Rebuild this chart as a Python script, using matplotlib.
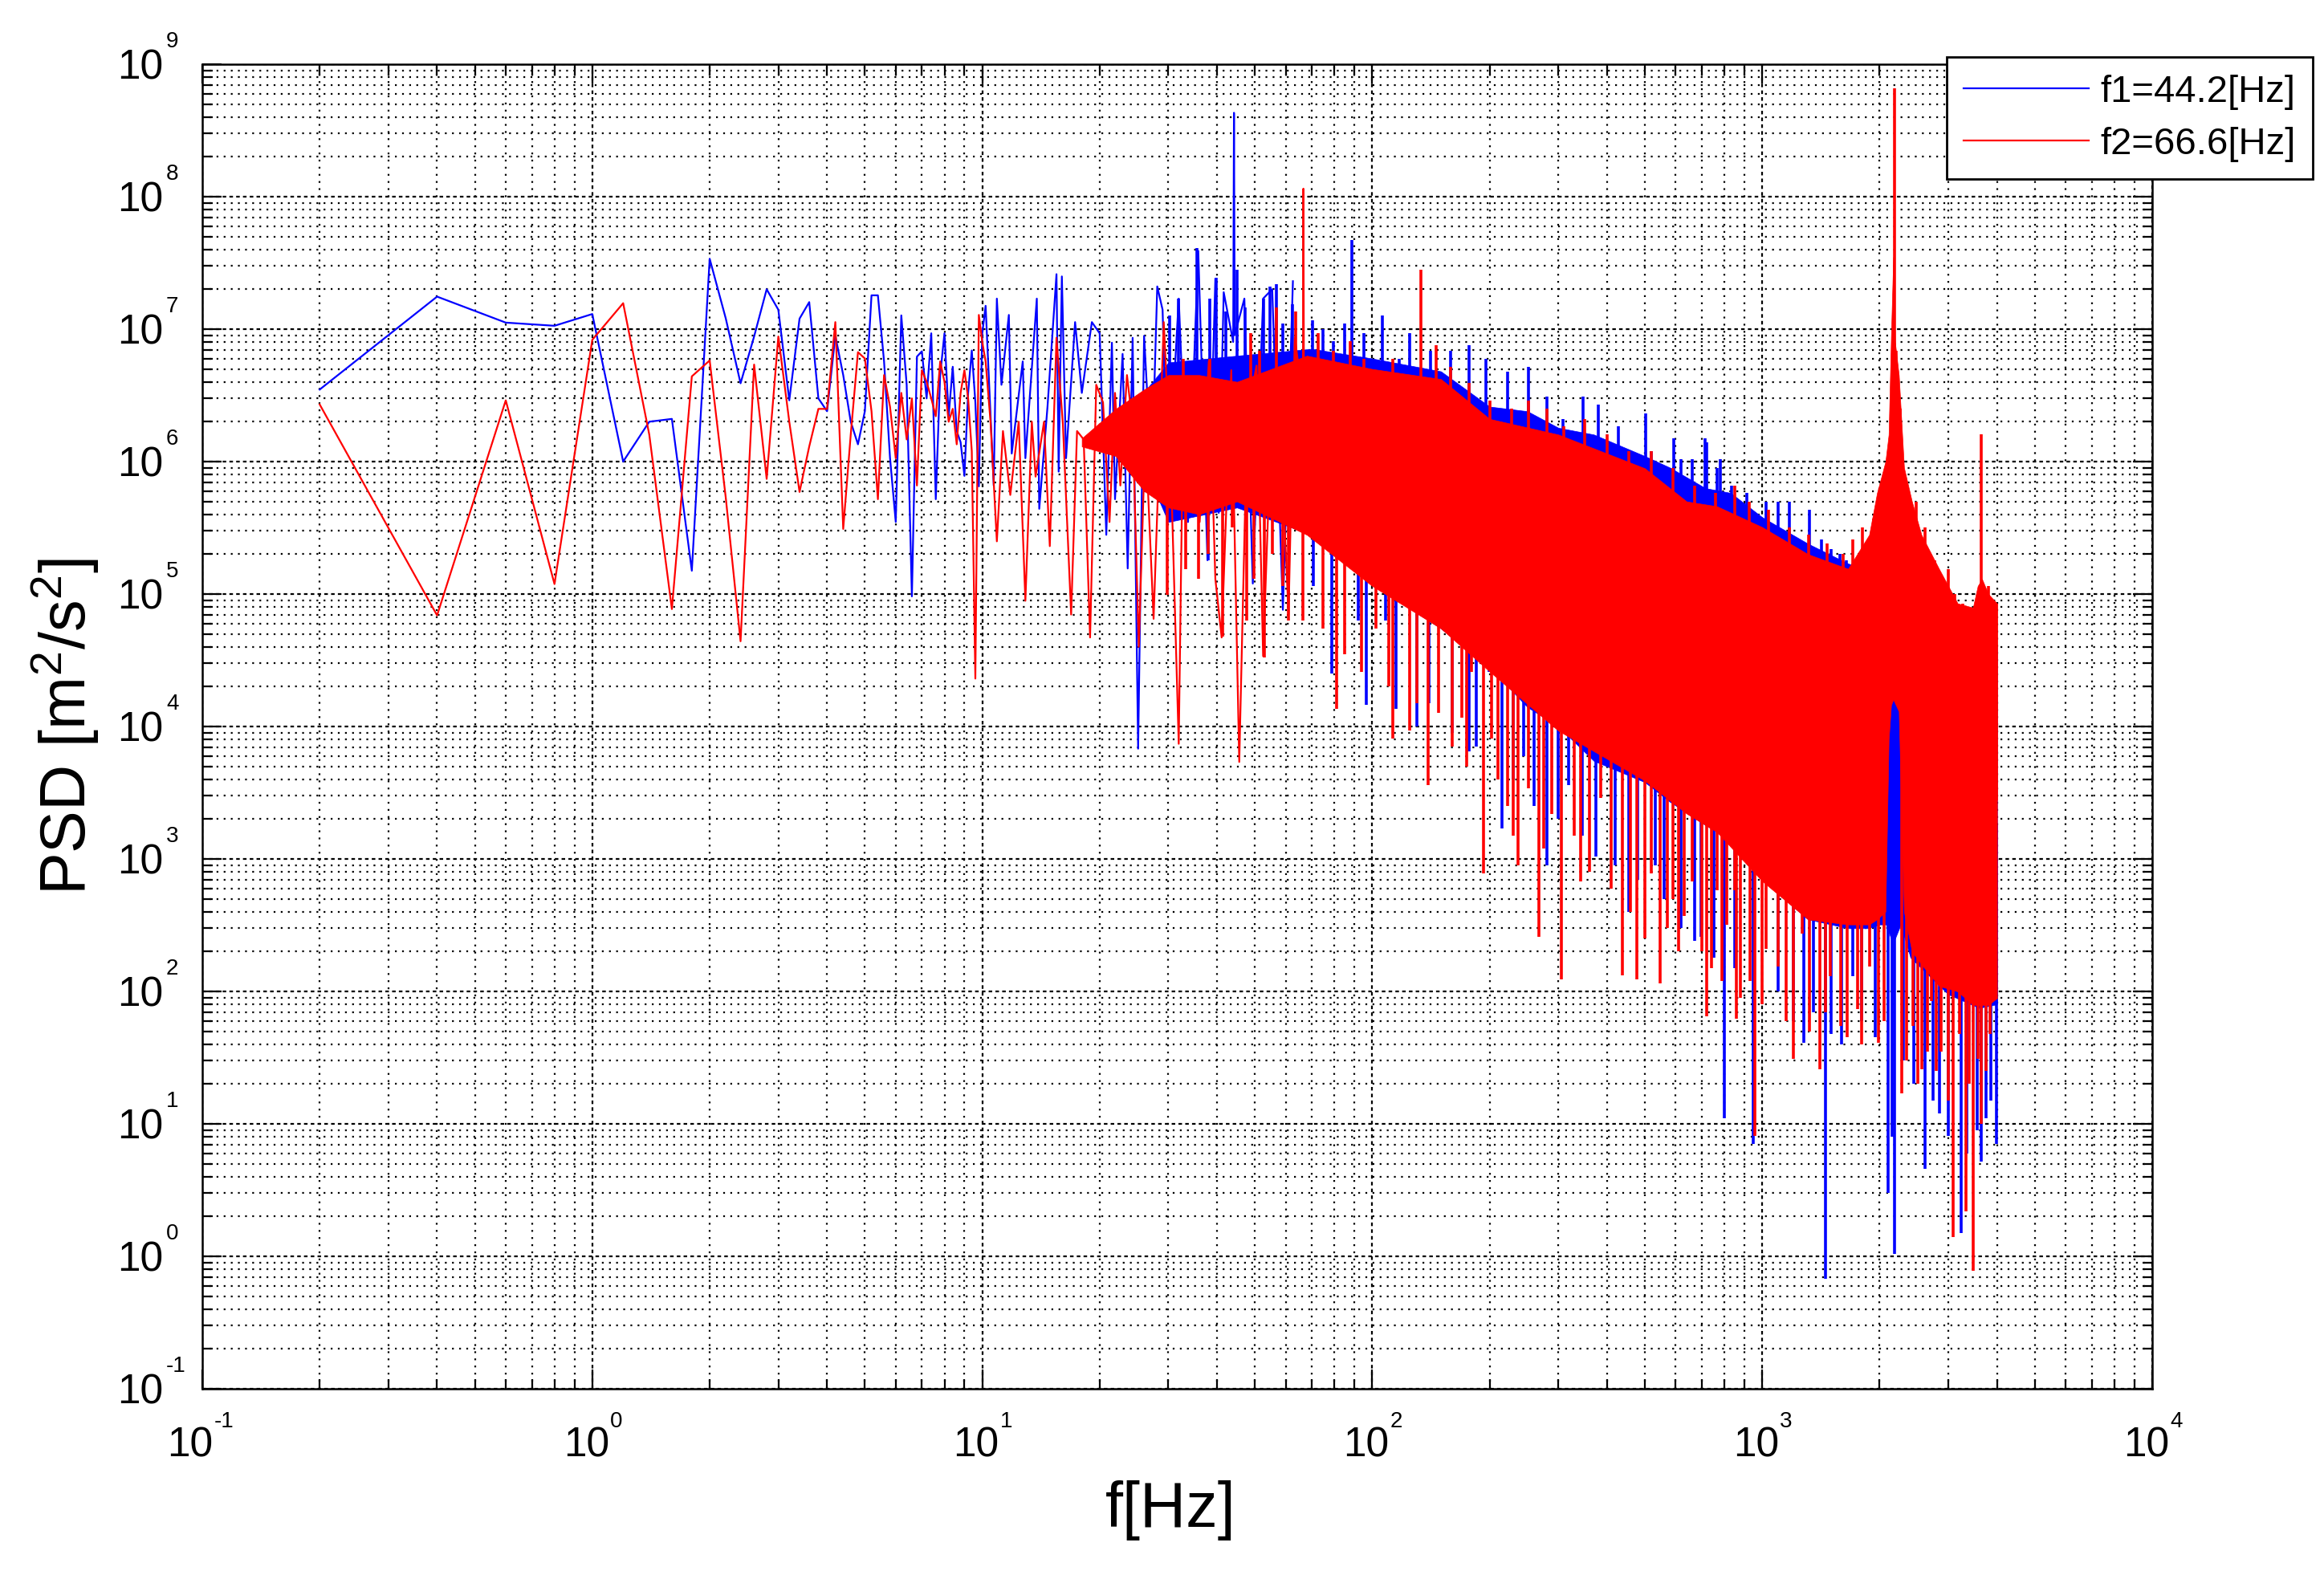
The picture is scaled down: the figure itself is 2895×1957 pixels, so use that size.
import numpy as np
import matplotlib.pyplot as plt
from matplotlib.lines import Line2D
from matplotlib.ticker import LogLocator, NullFormatter

# ---- f1 = 44.2 Hz (blue): resolved low-frequency points ----
f1_hz = [0.2, 0.4, 0.6, 0.8, 1.0, 1.2, 1.4, 1.6, 1.8, 2.0,
         2.2, 2.4, 2.6, 2.8, 3.0, 3.2, 3.4, 3.6, 3.8, 4.0,
         4.2, 4.4, 4.6, 4.8, 5.0, 5.2, 5.4, 5.6, 5.8, 6.0,
         6.2, 6.4, 6.6, 6.8, 7.0, 7.2, 7.4, 7.6, 7.8, 8.0,
         8.2, 8.4, 8.6, 8.8, 9.0, 9.2, 9.4, 9.6, 9.8, 10.0,
         10.2, 10.7, 10.9, 11.2, 11.7, 11.9, 12.7, 12.9, 13.8, 14.0,
         14.7, 15.5, 15.7, 16.0, 16.4, 17.3, 18.0, 19.1, 20.0, 20.8,
         21.5, 21.9, 22.9, 23.6, 24.3, 25.1, 26.0, 27.2, 28.1, 29.0,
         29.9, 31.9, 33.7, 35.8, 37.8, 39.6, 40.4, 41.6, 44.0, 44.2,
         44.4, 47.0, 49.4, 52.5, 55.4, 59.0, 62.6]
f1_psd = [3.5e6, 1.76e7, 1.12e7, 1.06e7, 1.3e7, 1.0e6, 2.0e6, 2.1e6, 1.5e5, 3.4e7,
          1.2e7, 3.9e6, 8.8e6, 2.0e7, 1.4e7, 2.9e6, 1.2e7, 1.6e7, 3.0e6, 2.4e6,
          8.9e6, 4.5e6, 2.0e6, 1.35e6, 2.4e6, 1.8e7, 1.8e7, 5.7e6, 1.07e6, 3.5e5,
          1.27e7, 3.8e6, 9.6e4, 6.2e6, 6.8e6, 3.0e6, 9.3e6, 5.2e5, 4.5e6, 9.3e6,
          2.2e6, 5.2e6, 1.7e6, 1.4e6, 7.8e5, 3.3e6, 6.9e6, 2.8e6, 6.5e5, 9.3e6,
          1.5e7, 6.6e5, 1.7e7, 3.8e6, 1.28e7, 1.15e6, 5.7e6, 1.06e6, 1.7e7, 4.4e5,
          2.6e6, 2.6e7, 8.4e5, 2.5e7, 1.06e6, 1.13e7, 3.3e6, 1.13e7, 9.3e6, 2.8e5,
          7.9e6, 5.2e5, 6.5e6, 1.56e5, 8.6e6, 6.8e3, 8.9e6, 7.7e5, 2.1e7, 1.4e7,
          5.2e5, 1.7e7, 3.5e5, 3.9e7, 1.8e5, 2.4e7, 4.1e5, 1.9e7, 8.0e6, 4.3e8,
          9.0e6, 1.7e7, 1.2e5, 1.7e7, 2.0e7, 7.6e4, 2.3e7]

# ---- f2 = 66.6 Hz (red): resolved low-frequency points ----
f2_hz = [0.2, 0.4, 0.6, 0.8, 1.0, 1.2, 1.4, 1.6, 1.8, 2.0,
         2.2, 2.4, 2.6, 2.8, 3.0, 3.2, 3.4, 3.6, 3.8, 4.0,
         4.2, 4.4, 4.6, 4.8, 5.0, 5.2, 5.4, 5.6, 5.8, 6.0,
         6.2, 6.4, 6.6, 6.8, 7.0, 7.2, 7.4, 7.6, 7.8, 8.0,
         8.2, 8.4, 8.6, 8.8, 9.0, 9.2, 9.4, 9.6, 9.8, 10.0,
         10.2, 10.5, 10.9, 11.3, 11.8, 12.4, 12.9, 13.4, 13.7, 14.4,
         14.9, 15.5, 16.1, 16.9, 17.5, 18.2, 18.9, 19.6, 20.4, 21.2,
         21.9, 22.6, 23.5, 24.3, 25.2, 26.2, 27.5, 29.2, 30.5, 31.9,
         32.8, 34.7, 36.1, 38.1, 39.6, 41.1, 43.5, 45.6, 47.8, 50.5,
         52.5, 55.0, 57.6, 61.0, 63.3, 66.4, 66.6, 66.8]
f2_psd = [2.7e6, 6.9e4, 2.9e6, 1.19e5, 8.3e6, 1.57e7, 1.6e6, 7.7e4, 4.4e6, 5.8e6,
          5.3e5, 4.4e4, 5.4e6, 7.4e5, 8.8e6, 2.0e6, 5.9e5, 1.3e6, 2.5e6, 2.5e6,
          1.13e7, 3.1e5, 1.6e6, 6.7e6, 6.0e6, 2.4e6, 5.2e5, 4.5e6, 2.6e6, 1.06e6,
          3.3e6, 1.47e6, 3.0e6, 6.6e5, 4.9e6, 4.0e6, 3.0e6, 2.2e6, 5.7e6, 4.0e6,
          2.0e6, 2.5e6, 1.35e6, 3.3e6, 4.9e6, 3.0e6, 1.2e6, 2.3e4, 1.28e7, 8.0e6,
          5.7e6, 2.0e6, 2.5e5, 1.7e6, 5.6e5, 2.0e6, 8.9e4, 2.0e6, 7.7e5, 2.0e6,
          2.3e5, 8.6e6, 1.9e6, 7.0e4, 1.7e6, 1.47e6, 4.7e4, 3.8e6, 2.8e6, 3.5e5,
          3.3e6, 6.6e5, 4.5e6, 1.9e6, 4.0e4, 1.7e6, 6.5e4, 1.13e7, 7.7e5, 7.4e3,
          3.3e6, 2.0e6, 3.5e5, 5.7e6, 1.3e5, 4.7e4, 4.9e6, 5.4e3, 2.2e6, 5.3e6,
          3.4e4, 1.7e6, 3.3e6, 7.0e4, 8.6e6, 3.0e6, 1.15e8, 4.0e6]

# ---- dense part: envelope of the solid core of each trace ----
band1_hz = [24, 30, 45, 70, 100, 150, 200, 250, 300, 370, 500, 580, 715, 830, 1000,
            1310, 1660, 1880, 2000, 2078, 2140, 2190, 2265, 2400, 3000, 3600, 4000]
band1_top = [2.5e6, 5.6e6, 6.3e6, 7.1e6, 6.0e6, 4.8e6, 2.6e6, 2.4e6, 1.8e6, 1.6e6,
             1.1e6, 9.0e5, 6.3e5, 5.8e5, 3.8e5, 2.4e5, 1.7e5, 1.5e5, 1.8e5, 2.2e5,
             2.5e5, 2.5e5, 2.2e5, 1.5e5, 5.0e4, 4.0e4, 4.0e4]
band1_bot = [1.6e6, 3.5e5, 4.5e5, 2.8e5, 1.2e5, 5.5e4, 2.8e4, 1.4e4, 1.0e4, 5.5e3,
             3.8e3, 2.7e3, 1.8e3, 1.4e3, 7.0e2, 3.5e2, 3.0e2, 3.0e2, 3.2e2, 3.2e2,
             2.5e2, 2.5e2, 3.2e2, 1.8e2, 95, 75, 80]

band2_hz = [18, 22, 26, 30, 36, 45, 68, 100, 150, 200, 300, 500, 640, 765, 1000,
            1310, 1660, 1880, 1970, 2070, 2110, 2140, 2168, 2190, 2240, 2310, 2420,
            2560, 2840, 3170, 3470, 3570, 3660, 3800, 4000]
band2_top = [1.5e6, 2.5e6, 3.5e6, 4.5e6, 4.5e6, 4.0e6, 6.3e6, 5.0e6, 4.2e6, 2.1e6,
             1.6e6, 8.9e5, 5.0e5, 4.6e5, 3.2e5, 2.0e5, 1.55e5, 2.8e5, 5.8e5, 1.0e6,
             1.6e6, 9.0e6, 3.5e7, 8.0e6, 4.5e6, 9.0e5, 5.0e5, 2.8e5, 1.55e5, 8.5e4,
             7.9e4, 1.15e5, 1.3e5, 1.0e5, 8.5e4]
band2_bot = [1.3e6, 1.1e6, 6.0e5, 4.5e5, 4.0e5, 5.0e5, 2.8e5, 1.15e5, 5.5e4, 2.6e4,
             9.3e3, 3.9e3, 2.2e3, 1.6e3, 6.8e2, 3.5e2, 3.2e2, 3.2e2, 3.5e2, 4.0e2,
             8.0e3, 1.45e4, 1.6e4, 1.5e4, 1.3e4, 4.0e2, 2.0e2, 1.6e2, 1.1e2, 1.0e2,
             79, 79, 79, 79, 89]

# ---- single bins sticking out of the core ----
spike1_up_hz = [30.3, 31.9, 35.5, 38.4, 39.8, 42.2, 45.0, 47.2, 52.6, 54.8,
                56.7, 59.0, 62.5, 70.4, 74.6, 79.4, 85, 88.7, 95, 106,
                117, 125, 141, 159, 177, 196, 222, 251, 281, 308,
                347, 380, 428, 503, 520, 593, 620, 660, 712, 720,
                765, 780, 836, 915, 1021, 1097, 1175, 1320, 1418, 1500,
                1580, 1640]
spike1_up_psd = [1.26e7, 1.7e7, 4.1e7, 1.7e7, 2.45e7, 1.35e7, 2.8e7, 1.45e7, 1.7e7, 2.1e7,
                 2.2e7, 1.1e7, 1.55e7, 1.17e7, 1.0e7, 8.1e6, 1.1e7, 4.7e7, 9.3e6, 1.26e7,
                 6.0e6, 9.3e6, 6.9e6, 6.9e6, 7.6e6, 6.0e6, 4.8e6, 5.2e6, 3.1e6, 2.1e6,
                 3.1e6, 2.7e6, 1.86e6, 2.3e6, 1.2e6, 1.5e6, 1.05e6, 1.05e6, 1.5e6, 1.4e6,
                 8.9e5, 1.05e6, 6.6e5, 5.8e5, 5.0e5, 5.0e5, 5.0e5, 4.3e5, 2.6e5, 2.2e5,
                 2.0e5, 1.8e5]
spike1_dn_hz = [37.9, 70.5, 78.6, 92, 96.5, 108, 115, 130, 140, 160,
                177, 185, 199, 215, 230, 245, 260, 281, 300, 319,
                345, 374, 420, 454, 480, 533, 560, 620, 670, 698,
                750, 800, 850, 950, 1100, 1200, 1280, 1350, 1452, 1500,
                1600, 1710, 1800, 1950, 2100, 2150, 2188, 2300, 2450, 2620,
                2740, 2850, 3000, 3230, 3350, 3550, 3640, 3740, 3850, 3980]
spike1_dn_psd = [1.8e5, 1.15e5, 2.5e4, 6.3e4, 1.45e4, 6.3e4, 1.35e4, 1.0e4, 1.5e4, 9.0e3,
                 6.5e3, 7.1e3, 2.6e4, 1.7e3, 4.0e3, 6.0e3, 2.5e3, 8.9e2, 2.0e3, 3.6e3,
                 1.5e3, 1.05e3, 9.0e2, 4.0e2, 7.0e2, 8.9e2, 5.0e2, 3.0e2, 2.4e2, 2.6e2,
                 1.8e2, 11, 1.5e2, 7.1, 1.0e2, 60, 41, 70, 0.68, 48,
                 40, 1.3e2, 60, 45, 3.0, 8.0, 1.05, 30, 20, 4.6,
                 15, 12, 8.1, 1.5, 6.0, 9.0, 5.2, 11, 15, 7.1]

spike2_up_hz = [32.8, 38.4, 48.8, 51.5, 56.7, 63.5, 72.7, 79.4, 88, 95,
                113, 133, 146, 159, 177, 200, 228, 251, 280, 310,
                350, 400, 455, 520, 590, 670, 760, 850, 928, 1040,
                1175, 1314, 1465, 1610, 1710, 1810, 1930, 2186, 2200, 2260,
                2480, 2620, 2770, 3000, 3110, 3260, 3440, 3640, 3800, 3980]
spike2_up_psd = [6.0e6, 6.0e6, 9.3e6, 6.9e6, 1.45e7, 1.35e7, 9.3e6, 6.9e6, 8.1e6, 6.0e6,
                 6.0e6, 2.8e7, 7.6e6, 5.2e6, 3.9e6, 2.9e6, 2.5e6, 2.9e6, 2.5e6, 1.86e6,
                 2.1e6, 1.6e6, 1.2e6, 1.2e6, 8.9e5, 6.6e5, 5.8e5, 6.6e5, 5.0e5, 4.3e5,
                 3.2e5, 2.8e5, 2.4e5, 2.0e5, 2.6e5, 3.2e5, 3.7e5, 6.6e8, 6.9e6, 2.5e6,
                 5.0e5, 3.2e5, 1.8e5, 1.55e5, 1.0e5, 8.5e4, 7.4e4, 1.6e6, 1.15e5, 8.5e4]
spike2_dn_hz = [29.8, 33.2, 35.9, 38.0, 41.4, 43.8, 47.7, 49.8, 53.0, 55.4,
                59.0, 61.0, 66.5, 74.6, 80.9, 84.8, 94, 102, 110, 113,
                125, 130, 139, 148, 160, 170, 175, 180, 193, 202,
                210, 222, 230, 237, 252, 267, 275, 289, 305, 330,
                343, 360, 385, 410, 438, 460, 477, 500, 520, 548,
                570, 590, 610, 630, 660, 700, 722, 740, 765, 790,
                810, 850, 860, 880, 898, 930, 959, 1000, 1021, 1097,
                1150, 1200, 1268, 1320, 1404, 1450, 1492, 1590, 1650, 1752,
                1800, 1882, 1990, 2050, 2280, 2350, 2430, 2500, 2570, 2650,
                2720, 2800, 2870, 3000, 3090, 3200, 3330, 3400, 3480, 3580,
                3650, 3750, 3840, 3950]
spike2_dn_psd = [9.8e4, 1.55e5, 1.3e5, 2.0e5, 4.8e4, 3.2e5, 6.3e4, 1.3e5, 3.3e4, 2.0e5,
                 1.15e5, 6.3e4, 6.3e4, 5.5e4, 1.35e4, 3.5e4, 2.6e4, 5.5e4, 2.0e4, 8.1e3,
                 9.3e3, 1.5e4, 3.6e3, 1.26e4, 7.1e3, 1.17e4, 5.0e3, 2.6e4, 7.8e2, 8.1e3,
                 4.0e3, 2.5e3, 1.5e3, 8.9e2, 3.4e3, 2.6e2, 1.2e3, 2.2e3, 1.23e2, 1.5e3,
                 6.8e2, 8.0e2, 2.9e3, 6.0e2, 1.32e2, 4.0e2, 1.23e2, 2.5e2, 7.8e2, 1.15e2,
                 3.0e2, 5.0e2, 2.0e2, 3.7e2, 6.8e2, 2.0e2, 65, 1.5e2, 5.8e2, 1.2e2,
                 3.2e2, 5.8e2, 62, 90, 1.38e3, 1.2e2, 8.1, 80, 2.1e2, 1.55e2,
                 60, 31, 2.75e2, 50, 26, 70, 1.3e2, 55, 45, 74,
                 40, 1.55e2, 41, 60, 17, 30, 55, 20, 26, 35,
                 85, 25, 35, 15, 1.4, 48, 2.2, 20, 0.78, 31,
                 10, 25, 48, 1.0e2]

BLUE = (0.0, 0.0, 1.0)
RED = (1.0, 0.0, 0.0)

plt.rcParams['font.family'] = ['Liberation Sans', 'DejaVu Sans']
plt.rcParams['mathtext.fontset'] = 'custom'
plt.rcParams['mathtext.rm'] = 'Liberation Sans'
plt.rcParams['mathtext.it'] = 'Liberation Sans:italic'


def core_mid(band_hz, top, bot, f):
    # geometric middle of the core, used as the foot of each spike
    mid = (np.log10(top) + np.log10(bot)) / 2
    return 10 ** np.interp(np.log10(f), np.log10(band_hz), mid)


def draw_series(ax, f, psd, band_hz, top, bot, up_hz, up_psd, dn_hz, dn_psd, color):
    ax.plot(f, psd, color=color, lw=1.6, zorder=3)
    ax.fill_between(band_hz, bot, top, color=color, lw=0.5, zorder=3)
    ax.vlines(up_hz, core_mid(band_hz, top, bot, up_hz), up_psd,
              color=color, lw=2.6, zorder=3)
    ax.vlines(dn_hz, dn_psd, core_mid(band_hz, top, bot, dn_hz),
              color=color, lw=2.6, zorder=3)


fig = plt.figure(figsize=(28.95, 19.58), dpi=100)
ax = fig.add_axes([252 / 2895, 1 - 1731 / 1958, 2429 / 2895, 1650 / 1958])
ax.set_xscale('log')
ax.set_yscale('log')

draw_series(ax, f1_hz, f1_psd, band1_hz, band1_top, band1_bot,
            spike1_up_hz, spike1_up_psd, spike1_dn_hz, spike1_dn_psd, BLUE)
draw_series(ax, f2_hz, f2_psd, band2_hz, band2_top, band2_bot,
            spike2_up_hz, spike2_up_psd, spike2_dn_hz, spike2_dn_psd, RED)

ax.set_xlim(1e-1, 1e4)
ax.set_ylim(1e-1, 1e9)

for axis in (ax.xaxis, ax.yaxis):
    axis.set_major_locator(LogLocator(base=10, numticks=30))
    axis.set_minor_locator(LogLocator(base=10, subs=np.arange(2, 10), numticks=30))
    axis.set_major_formatter(NullFormatter())
    axis.set_minor_formatter(NullFormatter())

ax.set_axisbelow(True)
ax.grid(True, which='minor', color='k', lw=1.6, ls=(0, (1, 3)))
ax.grid(True, which='major', color='k', lw=1.6, ls=(0, (2, 1.8)))
ax.tick_params(which='both', direction='in', top=True, right=True, width=1.6)
ax.tick_params(which='major', length=17)
ax.tick_params(which='minor', length=9)
for s in ax.spines.values():
    s.set_linewidth(1.8)

# MATLAB-style tick labels: "10" with a raised exponent
for k in range(-1, 10):
    ax.annotate('10', xy=(0, 10.0 ** k), xycoords=('axes fraction', 'data'),
                xytext=(-49, -18), textcoords='offset pixels',
                ha='right', va='baseline', fontsize=37)
    ax.annotate(str(k), xy=(0, 10.0 ** k), xycoords=('axes fraction', 'data'),
                xytext=(-45, 22), textcoords='offset pixels',
                ha='left', va='baseline', fontsize=20)
for k in range(-1, 5):
    j = (57 - 15 * len(str(k))) / 2
    ax.annotate('10', xy=(10.0 ** k, 0), xycoords=('data', 'axes fraction'),
                xytext=(j, -84), textcoords='offset pixels',
                ha='right', va='baseline', fontsize=37)
    ax.annotate(str(k), xy=(10.0 ** k, 0), xycoords=('data', 'axes fraction'),
                xytext=(j + 1, -47), textcoords='offset pixels',
                ha='left', va='baseline', fontsize=20)

fig.text(1458 / 2895, 1 - 1902 / 1958, 'f[Hz]', ha='center', va='baseline',
         fontsize=57)
fig.text(107 / 2895, 1 - 905 / 1958, r'PSD [m$^2$/s$^2$]', rotation=90,
         rotation_mode='anchor', ha='center', va='baseline', fontsize=57)

handles = [Line2D([], [], color=BLUE, lw=1.6), Line2D([], [], color=RED, lw=1.6)]
leg = fig.legend(handles, ['f1=44.2[Hz]', 'f2=66.6[Hz]'], loc='upper right',
                 bbox_to_anchor=(2881 / 2895, 1 - 72 / 1958),
                 bbox_transform=fig.transFigure, borderaxespad=0,
                 fancybox=False, edgecolor='k', framealpha=1,
                 fontsize=34, handlelength=3.3, handletextpad=0.3,
                 borderpad=0.45, labelspacing=0.45)
leg.get_frame().set_linewidth(2)

fig.savefig('out.png', dpi=100, facecolor='white')
